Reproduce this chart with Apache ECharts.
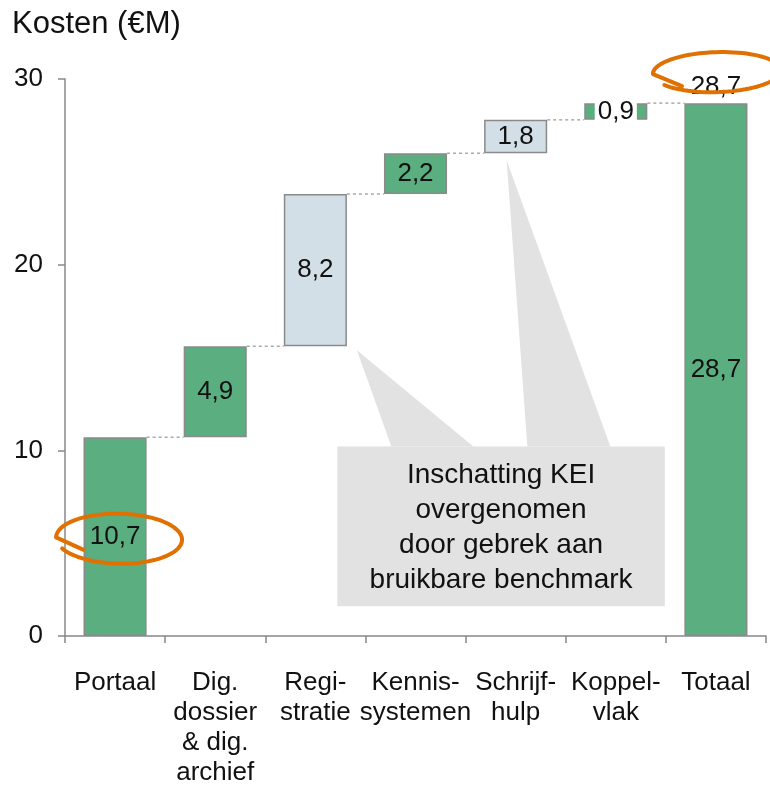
<!DOCTYPE html>
<html>
<head>
<meta charset="utf-8">
<script src="https://cdn.jsdelivr.net/npm/echarts@6/dist/echarts.min.js"></script>
<style>
  html, body { margin: 0; padding: 0; background: #ffffff; }
  #chart { width: 770px; height: 789px; }
</style>
</head>
<body>
<div id="chart"></div>
<script>
// Cost build-up per component (in € million)
const categories = ['Portaal', 'Dig.\ndossier\n& dig.\narchief', 'Regi-\nstratie', 'Kennis-\nsystemen', 'Schrijf-\nhulp', 'Koppel-\nvlak', 'Totaal'];
const costs = [10.7, 4.9, 8.2, 2.2, 1.8, 0.9, 28.7];
const isTotal = [false, false, false, false, false, false, true];
// components whose figure is the KEI estimate
const isEstimate = [false, false, true, false, true, false, false];
const yTicks = [0, 10, 20, 30];
const calloutLines = ['Inschatting KEI', 'overgenomen', 'door gebrek aan', 'bruikbare benchmark'];

const GREEN = '#5aae80';
const LIGHT = '#d3dfe6';
const EDGE = '#8a8a8a';
const ORANGE = '#e07000';
const FONT = '"Liberation Sans", Arial, sans-serif';
const BAR_RATIO = 0.63;

const fmt = v => v.toFixed(1).replace('.', ',');

// running bases for the waterfall
const bases = [];
const levels = [];
let run = 0;
costs.forEach((c, i) => {
  if (isTotal[i]) { bases.push(0); levels.push(c); }
  else { bases.push(run); run = +(run + c).toFixed(2); levels.push(run); }
});

const chart = echarts.init(document.getElementById('chart'));

const valueData = costs.map((c, i) => {
  const item = {
    value: c,
    itemStyle: { color: isEstimate[i] ? LIGHT : GREEN, borderColor: EDGE, borderWidth: 1.5 }
  };
  if (categories[i].startsWith('Koppel')) {
    item.label = { backgroundColor: '#ffffff', padding: [0, 3] };
  }
  return item;
});

// dotted connectors between consecutive bar tops
const connectorData = levels.slice(0, levels.length - 1).map((lv, i) => [i, lv]);

chart.setOption({
  animation: false,
  backgroundColor: '#ffffff',
  textStyle: { fontFamily: FONT },
  title: {
    text: 'Kosten (€M)',
    left: 12, top: 9, padding: 0,
    textStyle: { fontFamily: FONT, fontSize: 31, fontWeight: 'normal', color: '#111' }
  },
  grid: { left: 65, right: 4, top: 79, bottom: 153, containLabel: false },
  xAxis: {
    type: 'category',
    data: categories,
    axisLine: { lineStyle: { color: '#888', width: 1.5 } },
    axisTick: { show: true, length: 7, lineStyle: { color: '#888', width: 1.5 } },
    axisLabel: { interval: 0, fontSize: 26, lineHeight: 30, color: '#111', margin: 32, fontFamily: FONT }
  },
  yAxis: {
    type: 'value',
    min: yTicks[0], max: yTicks[yTicks.length - 1], interval: 10,
    axisLine: { show: true, lineStyle: { color: '#888', width: 1.5 } },
    axisTick: { show: true, length: 7, lineStyle: { color: '#888', width: 1.5 } },
    axisLabel: { fontSize: 26, color: '#111', margin: 22, fontFamily: FONT },
    splitLine: { show: false }
  },
  series: [
    {
      name: 'base', type: 'bar', stack: 'w', silent: true,
      barWidth: (BAR_RATIO * 100) + '%',
      itemStyle: { color: 'rgba(0,0,0,0)' },
      data: bases
    },
    {
      name: 'kosten', type: 'bar', stack: 'w',
      barWidth: (BAR_RATIO * 100) + '%',
      data: valueData,
      label: {
        show: true, position: 'inside', fontSize: 26, color: '#111', fontFamily: FONT,
        formatter: p => fmt(p.value)
      },
      z: 3
    },
    {
      name: 'totaal', type: 'scatter', symbolSize: 0, silent: true,
      itemStyle: { opacity: 1 },
      data: costs.map((c, i) => isTotal[i] ? [i, c] : null).filter(Boolean),
      label: {
        show: true, position: 'top', distance: 3, fontSize: 26, color: '#111', fontFamily: FONT,
        opacity: 1,
        formatter: p => fmt(p.value[1])
      },
      z: 4
    },
    {
      name: 'connectors', type: 'custom', silent: true,
      data: connectorData,
      renderItem: (params, api) => {
        const p = api.coord([api.value(0), api.value(1)]);
        const w = api.size([1, 0])[0];
        const hw = w * BAR_RATIO / 2;
        return {
          type: 'line',
          shape: { x1: p[0] + hw, y1: p[1], x2: p[0] + w - hw, y2: p[1] },
          style: { stroke: '#aaaaaa', lineWidth: 1.5, lineDash: [3, 3] }
        };
      },
      z: 2
    }
  ]
});

// annotations placed relative to the axes
const px = (ci, v) => chart.convertToPixel({ xAxisIndex: 0, yAxisIndex: 0 }, [ci, v]);
const catW = px(1, 0)[0] - px(0, 0)[0];
const halfBar = catW * BAR_RATIO / 2;

const regBottom = px(2, bases[2]);
const schBottom = px(4, bases[4]);
const boxTop = px(0, 10.2)[1];
const boxBottom = px(0, 1.6)[1];
const boxLeft = px(2, 0)[0] + 22;
const boxRight = px(5, 0)[0] + 49;

// hand-drawn style ring: parametric loop with a short tail
function ring(cx, cy, rx, ry, t0, t1, tail, tilt) {
  const pts = [];
  if (tail) pts.push([cx + tail[0], cy + tail[1]]);
  const n = 80;
  for (let k = 0; k <= n; k++) {
    const t = t0 + (t1 - t0) * k / n;
    const x = rx * Math.cos(t), y = ry * Math.sin(t);
    pts.push([cx + x * Math.cos(tilt) - y * Math.sin(tilt), cy + x * Math.sin(tilt) + y * Math.cos(tilt)]);
  }
  return pts;
}

const portaalLabel = px(0, costs[0] / 2);
const totalTop = px(6, costs[6]);

chart.setOption({
  graphic: [
    {
      type: 'polygon', silent: true, z: 1,
      shape: { points: [[regBottom[0] + halfBar + 10, regBottom[1] + 4], [boxLeft + 54, boxTop], [boxLeft + 136, boxTop]] },
      style: { fill: '#e2e2e2' }
    },
    {
      type: 'polygon', silent: true, z: 1,
      shape: { points: [[schBottom[0] - 9, schBottom[1] + 7], [boxLeft + 190, boxTop], [boxLeft + 273, boxTop]] },
      style: { fill: '#e2e2e2' }
    },
    {
      type: 'rect', silent: true, z: 1,
      shape: { x: boxLeft, y: boxTop, width: boxRight - boxLeft, height: boxBottom - boxTop },
      style: { fill: '#e2e2e2' }
    },
    {
      type: 'text', silent: true, z: 5,
      x: (boxLeft + boxRight) / 2, y: (boxTop + boxBottom) / 2 + 1,
      style: {
        text: calloutLines.join('\n'), fill: '#111', font: '28px ' + FONT,
        lineHeight: 35, align: 'center', verticalAlign: 'middle'
      }
    },
    {
      type: 'polyline', silent: true, z: 10,
      shape: { points: ring(portaalLabel[0] + 4, portaalLabel[1] + 2, 63, 25, Math.PI, 3 * Math.PI - 0.45, [-36, 11], 0.02) },
      style: { stroke: ORANGE, lineWidth: 4, fill: null, lineCap: 'round', lineJoin: 'round' }
    },
    {
      type: 'polyline', silent: true, z: 10,
      shape: { points: ring(totalTop[0] + 1, totalTop[1] - 31, 64, 20, Math.PI, 3 * Math.PI - 0.6, [-35, 14], -0.03) },
      style: { stroke: ORANGE, lineWidth: 4, fill: null, lineCap: 'round', lineJoin: 'round' }
    }
  ]
});
</script>
</body>
</html>
